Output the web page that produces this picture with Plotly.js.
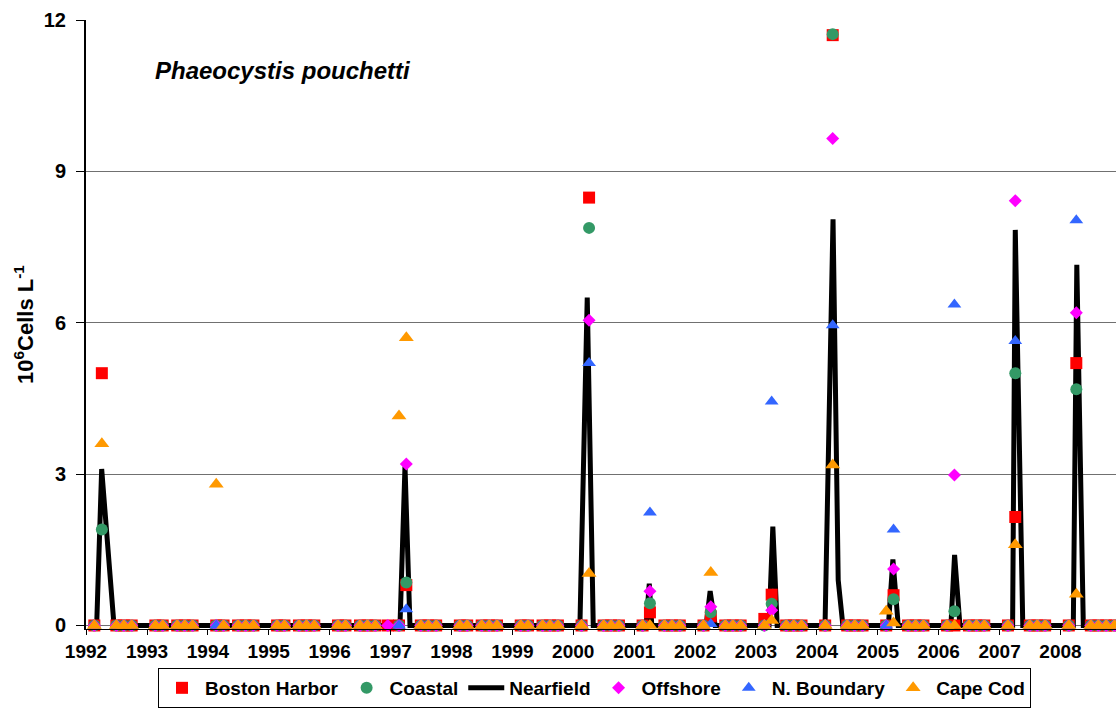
<!DOCTYPE html>
<html>
<head>
<meta charset="utf-8">
<script src="https://cdn.plot.ly/plotly-3.0.1.min.js"></script>
<style>
  html, body { margin: 0; padding: 0; background: #ffffff; }
  #chart { width: 1116px; height: 717px; }
</style>
</head>
<body>
<div id="chart"></div>
<script>
// Farfield survey dates (shared by the five regional series)
const surveyDates = [
  '1992-02-20','1992-04-05','1992-07-01','1992-08-15','1992-10-01',
  '1993-02-20','1993-04-05','1993-07-01','1993-08-15','1993-10-01',
  '1994-02-20','1994-04-05','1994-07-01','1994-08-15','1994-10-01',
  '1995-02-20','1995-04-05','1995-07-01','1995-08-15','1995-10-01',
  '1996-02-20','1996-04-05','1996-07-01','1996-08-15','1996-10-01','1996-12-15',
  '1997-02-20','1997-04-05','1997-07-01','1997-08-15','1997-10-01',
  '1998-02-20','1998-04-05','1998-07-01','1998-08-15','1998-10-01',
  '1999-02-20','1999-04-05','1999-07-01','1999-08-15','1999-10-01',
  '2000-02-20','2000-04-05','2000-07-01','2000-08-15','2000-10-01',
  '2001-02-20','2001-04-05','2001-07-01','2001-08-15','2001-10-01',
  '2002-02-20','2002-04-05','2002-07-01','2002-08-15','2002-10-01',
  '2003-02-20','2003-04-05','2003-07-01','2003-08-15','2003-10-01',
  '2004-02-20','2004-04-05','2004-07-01','2004-08-15','2004-10-01',
  '2005-02-20','2005-04-05','2005-07-01','2005-08-15','2005-10-01',
  '2006-02-20','2006-04-05','2006-07-01','2006-08-15','2006-10-01',
  '2007-02-20','2007-04-05','2007-07-01','2007-08-15','2007-10-01',
  '2008-02-20','2008-04-05','2008-07-01','2008-08-15','2008-10-01','2008-11-20'
];

// Phaeocystis pouchetti abundance, 10^6 cells per litre
const bostonHarbor = [
  0, 5.0, 0, 0, 0,
  0, 0, 0, 0, 0,
  0, 0, 0, 0, 0,
  0, 0, 0, 0, 0,
  0, 0, 0, 0, 0, 0,
  0, 0.8, 0, 0, 0,
  0, 0, 0, 0, 0,
  0, 0, 0, 0, 0,
  0, 8.48, 0, 0, 0,
  0, 0.26, 0, 0, 0,
  0, 0.18, 0, 0, 0,
  0.13, 0.61, 0, 0, 0,
  0, 11.7, 0, 0, 0,
  0, 0.6, 0, 0, 0,
  0, 0, 0, 0, 0,
  0, 2.15, 0, 0, 0,
  0, 5.2, 0, 0, 0, 0
];
const coastal = [
  0, 1.9, 0, 0, 0,
  0, 0, 0, 0, 0,
  0, 0, 0, 0, 0,
  0, 0, 0, 0, 0,
  0, 0, 0, 0, 0, null,
  0, 0.85, 0, 0, 0,
  0, 0, 0, 0, 0,
  0, 0, 0, 0, 0,
  0, 7.88, 0, 0, 0,
  0, 0.44, 0, 0, 0,
  0, 0.26, 0, 0, 0,
  0, 0.43, 0, 0, 0,
  0, 11.72, 0, 0, 0,
  0, 0.52, 0, 0, 0,
  0, 0.28, 0, 0, 0,
  0, 5.0, 0, 0, 0,
  0, 4.68, 0, 0, 0, 0
];
const offshore = [
  0, null, 0, 0, 0,
  0, 0, 0, 0, 0,
  0, 0, 0, 0, 0,
  0, 0, 0, 0, 0,
  0, 0, 0, 0, 0, 0,
  0, 3.2, 0, 0, 0,
  0, 0, 0, 0, 0,
  0, 0, 0, 0, 0,
  0, 6.05, 0, 0, 0,
  0, 0.68, 0, 0, 0,
  0, 0.37, 0, 0, 0,
  0, 0.3, 0, 0, 0,
  0, 9.65, 0, 0, 0,
  0, 1.12, 0, 0, 0,
  0, 2.98, 0, 0, 0,
  0, 8.42, 0, 0, 0,
  0, 6.2, 0, 0, 0, 0
];
const nBoundary = [
  0, null, 0, 0, 0,
  0, 0, 0, 0, 0,
  0, 0, 0, 0, 0,
  0, 0, 0, 0, 0,
  0, 0, 0, 0, 0, null,
  0, 0.32, 0, 0, 0,
  0, 0, 0, 0, 0,
  0, 0, 0, 0, 0,
  0, 5.2, 0, 0, 0,
  0, 2.24, 0, 0, 0,
  0, 0.03, 0, 0, 0,
  0, 4.44, 0, 0, 0,
  0, 5.95, 0, 0, 0,
  0, 1.9, 0, 0, 0,
  0, 6.36, 0, 0, 0,
  0, 5.64, 0, 0, 0,
  0, 8.03, 0, 0, 0, 0
];
const capeCod = [
  0, 3.6, 0, 0, 0,
  0, 0, 0, 0, 0,
  2.8, 0, 0, 0, 0,
  0, 0, 0, 0, 0,
  0, 0, 0, 0, 0, null,
  4.15, 5.7, 0, 0, 0,
  0, 0, 0, 0, 0,
  0, 0, 0, 0, 0,
  0, 1.03, 0, 0, 0,
  0, 0, 0, 0, 0,
  0, 1.05, 0, 0, 0,
  0, 0.1, 0, 0, 0,
  0, 3.18, 0, 0, 0,
  0.28, 0.05, 0, 0, 0,
  0, 0, 0, 0, 0,
  0, 1.6, 0, 0, 0,
  0, 0.62, 0, 0, 0, 0
];

// Nearfield surveys
const nearfieldDates = [
  '1992-03-05','1992-04-04','1992-06-17','1992-10-01',
  '1993-02-20','1993-10-01',
  '1994-02-20','1994-10-01',
  '1995-02-20','1995-10-01',
  '1996-02-20','1996-10-01',
  '1997-02-26','1997-03-28','1997-04-27','1997-10-01',
  '1998-02-20','1998-10-01',
  '1999-02-20','1999-10-01',
  '2000-02-10','2000-03-25','2000-04-30','2000-10-01',
  '2001-03-13','2001-04-01','2001-04-16','2001-10-01',
  '2002-03-08','2002-04-01','2002-05-01','2002-10-01',
  '2003-03-20','2003-04-12','2003-05-08','2003-10-01',
  '2004-02-19','2004-04-07','2004-05-08','2004-06-05','2004-10-01',
  '2005-03-05','2005-04-01','2005-05-03','2005-10-01',
  '2006-03-15','2006-04-06','2006-05-08','2006-10-01',
  '2007-03-20','2007-04-05','2007-05-20','2007-10-01',
  '2008-03-18','2008-04-08','2008-05-17','2008-11-28'
];
const nearfield = [
  0, 3.1, 0, 0,
  0, 0,
  0, 0,
  0, 0,
  0, 0,
  0, 3.15, 0, 0,
  0, 0,
  0, 0,
  0, 6.5, 0, 0,
  0, 0.83, 0, 0,
  0, 0.68, 0, 0,
  0, 1.96, 0, 0,
  0, 8.05, 0.9, 0, 0,
  0, 1.31, 0, 0,
  0, 1.4, 0, 0,
  0, 7.84, 0, 0,
  0, 7.15, 0, 0
];

const yTicks = [0, 3, 6, 9, 12];
const FONT = 'Liberation Sans, Arial, Helvetica, sans-serif';

function regionTrace(name, values, symbol, size, color, rank) {
  return {
    type: 'scatter', mode: 'markers', name: name,
    x: surveyDates, y: values,
    marker: { symbol: symbol, size: size, color: color, line: { width: 0 } },
    cliponaxis: false, legendrank: rank
  };
}

const traces = [
  {
    type: 'scatter', mode: 'lines', name: 'Nearfield',
    x: nearfieldDates, y: nearfield,
    line: { color: '#000000', width: 5 },
    cliponaxis: false, legendrank: 3
  },
  regionTrace('Boston Harbor', bostonHarbor, 'square', 12, '#FF0000', 1),
  regionTrace('Coastal', coastal, 'circle', 12, '#339966', 2),
  regionTrace('Offshore', offshore, 'diamond', 10, '#FF00FF', 4),
  regionTrace('N. Boundary', nBoundary, 'triangle-up', 12, '#3366FF', 5),
  regionTrace('Cape Cod', capeCod, 'triangle-up', 13, '#FF9900', 6)
];

const layout = {
  width: 1116, height: 717,
  margin: { l: 86, r: 0, t: 20, b: 88, pad: 0 },
  paper_bgcolor: '#ffffff', plot_bgcolor: '#ffffff',
  font: { family: FONT, color: '#000000' },
  showlegend: true,
  xaxis: {
    type: 'date',
    range: ['1992-01-01', '2008-11-29'],
    tick0: '1992-01-01', dtick: 'M12', tickformat: '%Y',
    ticks: 'outside', ticklen: 5, tickwidth: 1, tickcolor: '#000000',
    showgrid: false, zeroline: false,
    showline: true, linecolor: '#000000', linewidth: 1,
    tickfont: { family: FONT, size: 19, weight: 'bold', color: '#000000' },
    ticklabelstandoff: 0
  },
  yaxis: {
    range: [-0.07, 12],
    tickvals: yTicks, ticktext: yTicks.map(String),
    ticks: 'outside', ticklen: 8, tickwidth: 1, tickcolor: '#000000',
    showline: true, linecolor: '#000000', linewidth: 2,
    showgrid: true, gridcolor: '#707070', gridwidth: 1.2,
    zeroline: false,
    tickfont: { family: FONT, size: 20, weight: 'bold', color: '#000000' },
    ticklabelstandoff: 6,
    title: {
      text: '10<sup>6</sup>Cells L<sup>-1</sup>',
      font: { family: FONT, size: 22, weight: 'bold', color: '#000000' },
      standoff: 4
    }
  },
  legend: {
    orientation: 'h',
    x: 0.4937, xanchor: 'center',
    y: -0.064, yanchor: 'top',
    bgcolor: '#ffffff', bordercolor: '#000000', borderwidth: 1,
    font: { family: FONT, size: 19, weight: 'bold', color: '#000000' },
    itemwidth: 36, traceorder: 'normal'
  },
  annotations: [{
    xref: 'paper', yref: 'paper',
    x: 0.065, y: 0.917, xanchor: 'left', yanchor: 'middle',
    text: 'Phaeocystis pouchetti', showarrow: false,
    font: { family: FONT, size: 24, weight: 'bold', style: 'italic', color: '#000000' }
  }]
};

Plotly.newPlot('chart', traces, layout, { displayModeBar: false, staticPlot: true });
</script>
</body>
</html>
